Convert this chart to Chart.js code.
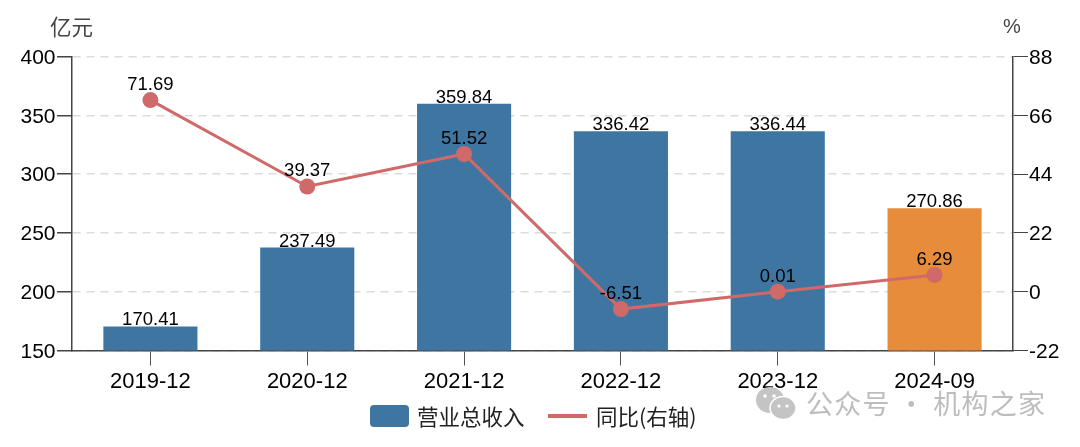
<!DOCTYPE html>
<html>
<head>
<meta charset="utf-8">
<script src="https://cdn.jsdelivr.net/npm/chart.js@4/dist/chart.umd.min.js"></script>
<style>
  html, body { margin: 0; padding: 0; background: #fff; }
  #wrap { position: relative; width: 1080px; height: 447px; overflow: hidden; }
  .note { position: absolute; font-family: "Noto Sans CJK SC", sans-serif; line-height: 1; }
  .swatch { position: absolute; }
</style>
</head>
<body>
<div id="wrap">
  <canvas id="revChart" width="1080" height="447"></canvas>
  <div class="note" style="left:50px;top:15px;font-size:21.5px;color:#444">亿元</div>
  <div class="note" style="left:1003px;top:16px;font-size:20px;color:#444;font-family:'Liberation Sans'">%</div>
  <div class="swatch" id="swBar" style="left:370px;top:405px;width:39px;height:22px;border-radius:4px"></div>
  <div class="note" id="lgBar" style="left:417px;top:405px;font-size:21.5px;color:#222"></div>
  <div class="swatch" id="swLine" style="left:548px;top:414px;width:39px;height:4px"></div>
  <div class="note" id="lgLine" style="left:596px;top:405px;font-size:21.5px;color:#222"></div>
  <svg style="position:absolute;left:756px;top:386px" width="42" height="36">
    <ellipse cx="14" cy="14" rx="14" ry="13" fill="#c4c4c4"/>
    <ellipse cx="27" cy="22" rx="13" ry="11.5" fill="#c4c4c4" stroke="#fff" stroke-width="1.5"/>
    <circle cx="23" cy="20" r="1.6" fill="#fff"/><circle cx="31" cy="20" r="1.6" fill="#fff"/>
    <circle cx="9" cy="10" r="1.8" fill="#fff"/><circle cx="18" cy="10" r="1.8" fill="#fff"/>
  </svg>
  <div class="note" style="left:806px;top:389px;font-size:27px;color:#bdbdbd;letter-spacing:1.2px;white-space:nowrap">公众号 · 机构之家</div>
</div>
<script>
var categories = ["2019-12", "2020-12", "2021-12", "2022-12", "2023-12", "2024-09"];
var revenue = [170.41, 237.49, 359.84, 336.42, 336.44, 270.86];
var yoy = [71.69, 39.37, 51.52, -6.51, 0.01, 6.29];
var barColors = ["#3e76a1", "#3e76a1", "#3e76a1", "#3e76a1", "#3e76a1", "#e68c3a"];
var lineColor = "#d0696a";
var seriesNames = ["营业总收入", "同比(右轴)"];

var fontName = '"Liberation Sans", Arial, sans-serif';

// value labels over bars and line points, plus the y tick labels
// (drawn here because the library centres them about 1.5px too high)
var valueLabels = {
  id: "valueLabels",
  afterDatasetsDraw: function (chart) {
    var ctx = chart.ctx;
    ctx.save();
    ctx.font = "18.5px " + fontName;
    ctx.fillStyle = "#000";
    ctx.textAlign = "center";
    ctx.textBaseline = "alphabetic";
    chart.getDatasetMeta(0).data.forEach(function (el, i) {
      ctx.fillText(revenue[i].toFixed(2), el.x, el.y - 1);
    });
    chart.getDatasetMeta(1).data.forEach(function (el, i) {
      ctx.fillText(yoy[i].toFixed(2), el.x, el.y - 10);
    });

    ctx.font = "21px " + fontName;
    ctx.textBaseline = "middle";
    ctx.textAlign = "right";
    chart.scales.y.ticks.forEach(function (t, i) {
      ctx.fillText(t.label, 55.5, chart.scales.y.getPixelForTick(i) + 1.5);
    });
    ctx.textAlign = "left";
    chart.scales.y1.ticks.forEach(function (t, i) {
      ctx.fillText(t.label, 1029, chart.scales.y1.getPixelForTick(i) + 1.5);
    });
    ctx.restore();
  }
};

var chart = new Chart("revChart", {
  type: "bar",
  data: {
    labels: categories,
    datasets: [
      {
        label: seriesNames[0],
        data: revenue,
        backgroundColor: barColors,
        yAxisID: "y",
        order: 2,
        categoryPercentage: 1,
        barPercentage: 0.6
      },
      {
        type: "line",
        label: seriesNames[1],
        data: yoy,
        borderColor: lineColor,
        backgroundColor: lineColor,
        borderWidth: 3,
        pointRadius: 8,
        pointBackgroundColor: lineColor,
        pointBorderWidth: 0,
        tension: 0,
        yAxisID: "y1",
        order: 1
      }
    ]
  },
  options: {
    responsive: false,
    animation: false,
    layout: { padding: { top: 56.5 } },
    plugins: { legend: { display: false }, tooltip: { enabled: false } },
    scales: {
      x: {
        afterFit: function (s) { s.height = 96.5; },
        border: { color: "#444", width: 1.5 },
        grid: { offset: false, color: "transparent", tickColor: "#555", tickLength: 15 },
        ticks: { color: "#000", font: { size: 22, family: fontName }, padding: 3, maxRotation: 0 }
      },
      y: {
        position: "left",
        min: 150,
        max: 400,
        afterFit: function (s) { s.width = 72; },
        border: { color: "#444", width: 1.5, dash: [8, 6] },
        grid: { color: "#dcdcdc", lineWidth: 1.5, tickColor: "#444", tickLength: 15, tickBorderDash: [] },
        ticks: { stepSize: 50, display: false }
      },
      y1: {
        position: "right",
        min: -22,
        max: 88,
        afterFit: function (s) { s.width = 67; },
        border: { color: "#444", width: 1.5 },
        grid: { drawOnChartArea: false, tickColor: "#444", tickLength: 15 },
        ticks: { stepSize: 22, display: false }
      }
    }
  },
  plugins: [valueLabels]
});

document.getElementById("swBar").style.background = barColors[0];
document.getElementById("swLine").style.background = lineColor;
document.getElementById("lgBar").textContent = seriesNames[0];
document.getElementById("lgLine").textContent = seriesNames[1];
</script>
</body>
</html>
